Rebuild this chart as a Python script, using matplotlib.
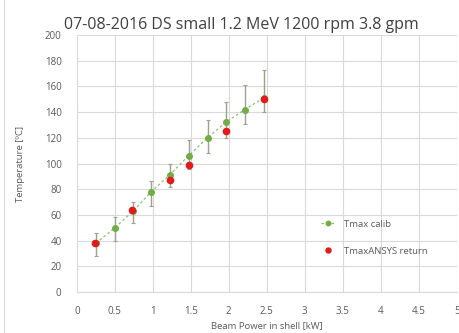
import matplotlib
matplotlib.use("Agg")
import matplotlib.pyplot as plt
import numpy as np

# Data
calib_x = [0.25, 0.50, 0.74, 0.98, 1.22, 1.47, 1.72, 1.96, 2.21, 2.46]
calib_y = [38, 50, 63, 78, 91, 106, 120, 132, 142, 151]
calib_err_lo = [10, 10, 9, 11, 9, 10, 12, 12, 11, 11]
calib_err_hi = [8, 8, 7, 8, 9, 12, 14, 16, 19, 22]

ansys_x = [0.24, 0.73, 1.22, 1.47, 1.96, 2.46]
ansys_y = [38, 64, 87, 99, 125, 150]

title = "07-08-2016 DS small 1.2 MeV 1200 rpm 3.8 gpm"
xlabel = "Beam Power in shell [kW]"
ylabel = "Temperature [ºC]"
xticks = [0, 0.5, 1, 1.5, 2, 2.5, 3, 3.5, 4, 4.5, 5]
xticklabels = ["0", "0.5", "1", "1.5", "2", "2.5", "3", "3.5", "4", "4.5", "5"]
yticks = [0, 20, 40, 60, 80, 100, 120, 140, 160, 180, 200]

plt.rcParams['font.family'] = ['Open Sans', 'DejaVu Sans']

fig = plt.figure(figsize=(4.6, 3.33), dpi=100)
ax = fig.add_axes([0.167, 0.123, 0.826, 0.772])

ax.errorbar(calib_x, calib_y, yerr=[calib_err_lo, calib_err_hi], fmt='none',
            ecolor='#9aa38c', elinewidth=1.0, capsize=1.5, capthick=0.8, zorder=2)
ax.plot(calib_x, calib_y, linestyle=(0, (2, 2)), color='#8fbf6f', linewidth=0.9,
        marker='o', markersize=4, markerfacecolor='#70ad47', markeredgecolor='#70ad47',
        label='Tmax calib', zorder=3)
ax.plot(ansys_x, ansys_y, linestyle='none', marker='o', markersize=4.5,
        markerfacecolor='#e31a1c', markeredgecolor='#e31a1c',
        label='TmaxANSYS return', zorder=4)

ax.set_xlim(0, 5)
ax.set_ylim(0, 200)
ax.set_xticks(xticks)
ax.set_xticklabels(xticklabels)
ax.set_yticks(yticks)
ax.grid(True, color='#d9d9d9', linewidth=0.8)
ax.set_axisbelow(True)
for s in ['top', 'right', 'left']:
    ax.spines[s].set_visible(False)
ax.spines['bottom'].set_color('#d9d9d9')
ax.tick_params(axis='x', length=0, labelsize=7, colors='#595959', pad=10)
ax.tick_params(axis='y', length=0, labelsize=7, colors='#595959', pad=11)

fig.text(0.525, 0.925, title, fontsize=11.5, color='#404040', ha='center', va='center')
ax.set_xlabel(xlabel, fontsize=6.8, color='#595959', labelpad=3)
ax.set_ylabel(ylabel, fontsize=6.8, color='#595959', labelpad=14)

leg = ax.legend(loc='upper left', bbox_to_anchor=(0.62, 0.315), frameon=False,
                fontsize=6.8, labelspacing=1.9, handlelength=1.6, markerscale=0.8)
for t in leg.get_texts():
    t.set_color('#595959')

fig.patches.append(plt.Line2D([0.008, 0.008], [0.0, 1.0], transform=fig.transFigure,
                              color='#d9d9d9', linewidth=0.8))

fig.savefig('out.png', dpi=100)
